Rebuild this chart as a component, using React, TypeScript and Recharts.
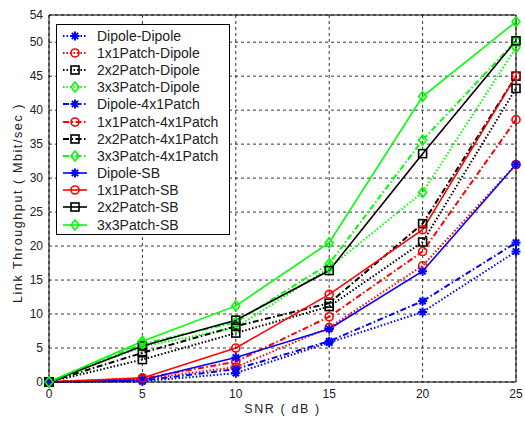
import {
  LineChart,
  Line,
  XAxis,
  YAxis,
  CartesianGrid,
  Legend,
  ReferenceLine,
} from "recharts";

const snr = [0, 5, 10, 15, 20, 25];

const dipoleDipole = [0, 0.1, 1.3, 5.8, 10.3, 19.2];
const patch1Dipole = [0, 0.4, 2.2, 8.0, 17.1, 32.0];
const patch2Dipole = [0, 3.3, 7.2, 11.1, 20.6, 43.2];
const patch3Dipole = [0, 5.2, 8.0, 16.8, 27.9, 49.2];
const dipole4x1 = [0, 0.2, 1.9, 6.0, 11.9, 20.5];
const patch1_4x1 = [0, 0.5, 3.0, 9.6, 19.2, 38.6];
const patch2_4x1 = [0, 4.3, 8.2, 11.6, 23.3, 45.0];
const patch3_4x1 = [0, 5.6, 8.8, 17.4, 35.6, 50.2];
const dipoleSB = [0, 0.3, 3.6, 7.8, 16.3, 32.0];
const patch1SB = [0, 0.6, 5.0, 12.9, 22.4, 45.0];
const patch2SB = [0, 5.3, 9.1, 16.4, 33.6, 50.2];
const patch3SB = [0, 6.0, 11.2, 20.5, 42.0, 53.0];

const yTicks = [0, 5, 10, 15, 20, 25, 30, 35, 40, 45, 50, 54];

type Marker = "star" | "circle" | "square" | "diamond";

const DOTTED = "1.5 2";
const DASHDOT = "6 2.5 1.5 2.5";

const series = [
  { key: "s1", name: "Dipole-Dipole", values: dipoleDipole, color: "#0000ff", dash: DOTTED, marker: "star" as Marker },
  { key: "s2", name: "1x1Patch-Dipole", values: patch1Dipole, color: "#ff0000", dash: DOTTED, marker: "circle" as Marker },
  { key: "s3", name: "2x2Patch-Dipole", values: patch2Dipole, color: "#000000", dash: DOTTED, marker: "square" as Marker },
  { key: "s4", name: "3x3Patch-Dipole", values: patch3Dipole, color: "#00ff00", dash: DOTTED, marker: "diamond" as Marker },
  { key: "s5", name: "Dipole-4x1Patch", values: dipole4x1, color: "#0000ff", dash: DASHDOT, marker: "star" as Marker },
  { key: "s6", name: "1x1Patch-4x1Patch", values: patch1_4x1, color: "#ff0000", dash: DASHDOT, marker: "circle" as Marker },
  { key: "s7", name: "2x2Patch-4x1Patch", values: patch2_4x1, color: "#000000", dash: DASHDOT, marker: "square" as Marker },
  { key: "s8", name: "3x3Patch-4x1Patch", values: patch3_4x1, color: "#00ff00", dash: DASHDOT, marker: "diamond" as Marker },
  { key: "s9", name: "Dipole-SB", values: dipoleSB, color: "#0000ff", dash: undefined, marker: "star" as Marker },
  { key: "s10", name: "1x1Patch-SB", values: patch1SB, color: "#ff0000", dash: undefined, marker: "circle" as Marker },
  { key: "s11", name: "2x2Patch-SB", values: patch2SB, color: "#000000", dash: undefined, marker: "square" as Marker },
  { key: "s12", name: "3x3Patch-SB", values: patch3SB, color: "#00ff00", dash: undefined, marker: "diamond" as Marker },
];

const rows = snr.map((x, i) => {
  const row: Record<string, number> = { snr: x };
  series.forEach((s) => (row[s.key] = s.values[i]));
  return row;
});

const FONT = "'Liberation Sans', Arial, sans-serif";

function MarkerShape({ type, cx, cy, color }: { type: Marker; cx: number; cy: number; color: string }) {
  const r = 4;
  if (type === "circle")
    return <circle cx={cx} cy={cy} r={r} fill="none" stroke={color} strokeWidth={1.6} />;
  if (type === "square")
    return <rect x={cx - r} y={cy - r} width={2 * r} height={2 * r} fill="none" stroke={color} strokeWidth={1.6} />;
  if (type === "diamond")
    return (
      <path
        d={`M${cx},${cy - r - 1}L${cx + r},${cy}L${cx},${cy + r + 1}L${cx - r},${cy}Z`}
        fill="none"
        stroke={color}
        strokeWidth={1.6}
      />
    );
  const s = r + 0.5;
  const d = s * 0.7;
  return (
    <g stroke={color} strokeWidth={2}>
      <line x1={cx - s} y1={cy} x2={cx + s} y2={cy} />
      <line x1={cx} y1={cy - s} x2={cx} y2={cy + s} />
      <line x1={cx - d} y1={cy - d} x2={cx + d} y2={cy + d} />
      <line x1={cx - d} y1={cy + d} x2={cx + d} y2={cy - d} />
    </g>
  );
}

function LegendBox() {
  return (
    <div
      style={{
        width: 174,
        height: 211,
        border: "1px solid #000",
        background: "#fff",
        fontFamily: FONT,
        fontSize: 14,
        color: "#222",
        boxSizing: "border-box",
        paddingTop: 2,
      }}
    >
      {series.map((s) => (
        <div key={s.key} style={{ display: "flex", alignItems: "center", height: 17.2 }}>
          <svg width={40} height={16} style={{ flex: "none" }}>
            <line
              x1={6}
              y1={8}
              x2={30}
              y2={8}
              stroke={s.color}
              strokeWidth={s.dash ? 2 : 1.6}
              strokeDasharray={s.dash}
            />
            <MarkerShape type={s.marker} cx={18} cy={8} color={s.color} />
          </svg>
          <span style={{ whiteSpace: "nowrap" }}>{s.name}</span>
        </div>
      ))}
    </div>
  );
}

export default function App() {
  return (
    <div style={{ position: "absolute", left: 0, top: 0, background: "#fff" }}>
      <LineChart
        width={525}
        height={426}
        data={rows}
        margin={{ top: 15, right: 9, left: 0, bottom: 4 }}
        style={{ fontFamily: FONT }}
      >
        <CartesianGrid stroke="#000" strokeDasharray="3 3" strokeWidth={0.8} />
        <XAxis
          dataKey="snr"
          type="number"
          domain={[0, 25]}
          ticks={snr}
          height={40}
          axisLine={{ stroke: "#000" }}
          tickLine={false}
          tickSize={0}
          tickMargin={7}
          tick={{ fill: "#222", fontSize: 12 }}
          label={{
            value: "SNR ( dB )",
            position: "insideBottom",
            offset: 9,
            fill: "#222",
            fontSize: 12.5,
            letterSpacing: 1.6,
          }}
        />
        <YAxis
          type="number"
          domain={[0, 54]}
          ticks={yTicks}
          width={49}
          axisLine={{ stroke: "#000" }}
          tickLine={false}
          tickSize={0}
          tickMargin={6}
          interval={0}
          tick={{ fill: "#222", fontSize: 12 }}
          label={{
            content: () => (
              <text
                x={18}
                y={203}
                transform="rotate(-90 18 203)"
                textAnchor="middle"
                dominantBaseline="central"
                fill="#222"
                fontSize={12.5}
                letterSpacing={1.6}
              >
                Link Throughput ( Mbit/sec )
              </text>
            ),
          }}
        />
        <ReferenceLine y={54} stroke="#000" strokeWidth={1} />
        <ReferenceLine x={25} stroke="#000" strokeWidth={1} />
        {series.map((s) => (
          <Line
            key={s.key}
            dataKey={s.key}
            name={s.name}
            stroke={s.color}
            strokeWidth={s.dash ? 2 : 1.6}
            strokeDasharray={s.dash}
            isAnimationActive={false}
            dot={(p: any) => <MarkerShape key={`${s.key}-${p.index}`} type={s.marker} cx={p.cx} cy={p.cy} color={s.color} />}
            activeDot={false}
          />
        ))}
        <Legend
          layout="vertical"
          align="center"
          verticalAlign="middle"
          wrapperStyle={{ left: 56, top: 24, width: 174 }}
          content={() => <LegendBox />}
        />
      </LineChart>
    </div>
  );
}
